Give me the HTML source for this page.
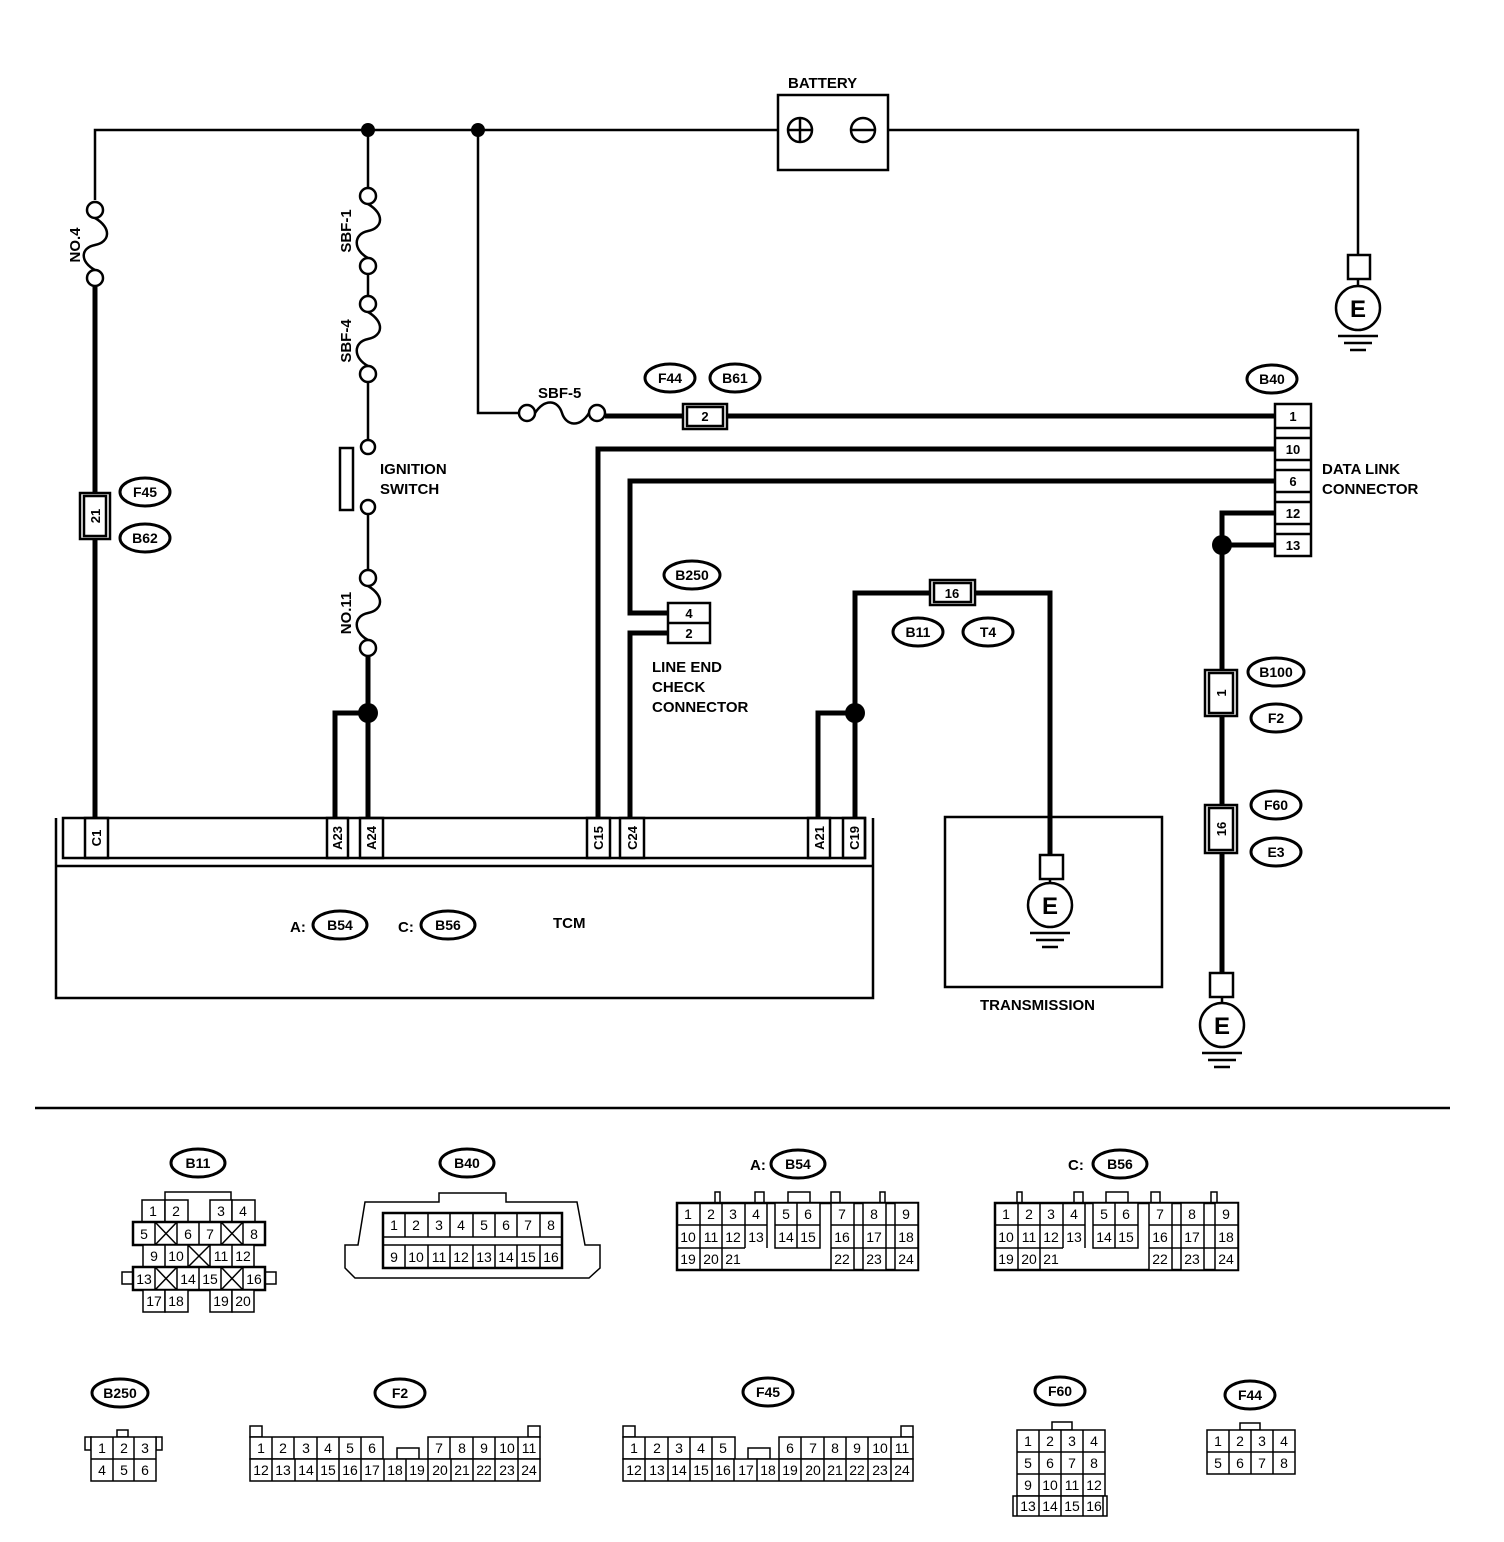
<!DOCTYPE html>
<html><head><meta charset="utf-8"><style>
html,body{margin:0;padding:0;background:#fff}
svg{display:block}
text{font-family:"Liberation Sans",Arial,sans-serif;fill:#000}
.l{font-size:15px;font-weight:bold}
.o{font-size:14px;font-weight:bold;text-anchor:middle}
.c{font-size:14px;text-anchor:middle}
.p{font-size:13px;font-weight:bold;text-anchor:middle}
</style></head><body>
<svg width="1504" height="1542" viewBox="0 0 1504 1542" xmlns="http://www.w3.org/2000/svg">
<g fill="none" stroke="#000" stroke-width="2.5">
<!-- top wire -->
<path d="M95 200 V130 H778 M888 130 H1358 V255"/>
<rect x="778" y="95" width="110" height="75"/>
<circle cx="800" cy="130" r="12"/><path d="M788 130 H812 M800 118 V142"/>
<circle cx="863" cy="130" r="12"/><path d="M851 130 H875"/>
<!-- NO.4 fuse -->
<circle cx="95" cy="210" r="8" fill="#fff"/><circle cx="95" cy="278" r="8" fill="#fff"/>
<path d="M95 218 C112 228,110 242,95 245 C80 248,80 262,95 270"/>
<!-- 368 column -->
<path d="M368 130 V188"/>
<circle cx="368" cy="196" r="8" fill="#fff"/><circle cx="368" cy="266" r="8" fill="#fff"/>
<path d="M368 204 C385 214,383 228,368 231 C353 234,353 250,368 258"/>
<path d="M368 274 V296"/>
<circle cx="368" cy="304" r="8" fill="#fff"/><circle cx="368" cy="374" r="8" fill="#fff"/>
<path d="M368 312 C385 322,383 336,368 339 C353 342,353 358,368 366"/>
<path d="M368 382 V439"/>
<circle cx="368" cy="447" r="7" fill="#fff"/><circle cx="368" cy="507" r="7" fill="#fff"/>
<rect x="340" y="448" width="13" height="62"/>
<path d="M368 514 V570"/>
<circle cx="368" cy="578" r="8" fill="#fff"/><circle cx="368" cy="648" r="8" fill="#fff"/>
<path d="M368 586 C385 596,383 610,368 613 C353 616,353 632,368 640"/>
<!-- 478 column -->
<path d="M478 130 V413 H519"/>
<circle cx="527" cy="413" r="8" fill="#fff"/><circle cx="597" cy="413" r="8" fill="#fff"/>
<path d="M535 413 C545 398,558 400,562 413 C566 426,580 428,589 413"/>
<!-- ground near battery -->
<rect x="1348" y="255" width="22" height="24"/>
<path d="M1358 279 V286"/>
<circle cx="1358" cy="308" r="22"/>
<path d="M1338 336 H1378 M1344 343 H1372 M1350 350 H1366"/>
</g>
<g fill="#000">
<circle cx="368" cy="130" r="7"/><circle cx="478" cy="130" r="7"/>
<circle cx="368" cy="713" r="10"/><circle cx="855" cy="713" r="10"/><circle cx="1222" cy="545" r="10"/>
</g>
<!-- thick wires -->
<g fill="none" stroke="#000" stroke-width="5">
<path d="M95 286 V818"/>
<path d="M368 656 V818 M368 713 H335 V818"/>
<path d="M605 416 H683 M727 416 H1275"/>
<path d="M1275 449 H598 V818"/>
<path d="M1275 481 H630 V613 H668 M668 633 H630 V818"/>
<path d="M1275 513 H1222 V973 M1275 545 H1222"/>
<path d="M818 818 V713 H855 M855 818 V593 H930 M975 593 H1050 V855"/>
</g>
<g fill="none" stroke="#000" stroke-width="2.5">
<!-- F44/B61 connector -->
<rect x="683" y="404" width="44" height="25" fill="#fff"/><rect x="687" y="407" width="36" height="19"/>
<!-- F45 connector -->
<rect x="80" y="493" width="30" height="46" fill="#fff"/><rect x="84" y="496" width="22" height="40"/>
<!-- DLC -->
<rect x="1275" y="404" width="36" height="152" fill="#fff"/>
<path d="M1275 428 H1311 M1275 438 H1311 M1275 460 H1311 M1275 470 H1311 M1275 492 H1311 M1275 502 H1311 M1275 524 H1311 M1275 534 H1311"/>
<!-- B250 -->
<rect x="668" y="603" width="42" height="40" fill="#fff"/><path d="M668 623 H710"/>
<!-- B11/T4 connector -->
<rect x="930" y="580" width="45" height="25" fill="#fff"/><rect x="934" y="583" width="37" height="19"/>
<!-- B100 connector -->
<rect x="1205" y="670" width="32" height="46" fill="#fff"/><rect x="1209" y="673" width="24" height="40"/>
<rect x="1205" y="805" width="32" height="48" fill="#fff"/><rect x="1209" y="808" width="24" height="42"/>
<!-- TCM -->
<path d="M56 818 V998 H873 V818 M56 866 H873"/>
<rect x="63" y="818" width="802" height="40"/>
<rect x="85" y="818" width="23" height="40"/>
<rect x="327" y="818" width="21" height="40"/><rect x="360" y="818" width="23" height="40"/>
<rect x="587" y="818" width="23" height="40"/><rect x="620" y="818" width="24" height="40"/>
<rect x="808" y="818" width="22" height="40"/><rect x="843" y="818" width="22" height="40"/>
<!-- transmission -->
<rect x="945" y="817" width="217" height="170"/>
<rect x="1040" y="855" width="23" height="24" fill="#fff"/>
<path d="M1050 879 V884"/><circle cx="1050" cy="905" r="22"/>
<path d="M1030 933 H1070 M1036 940 H1064 M1042 947 H1058"/>
<rect x="1210" y="973" width="23" height="24" fill="#fff"/>
<path d="M1222 997 V1003"/><circle cx="1222" cy="1025" r="22"/>
<path d="M1202 1053 H1242 M1208 1060 H1236 M1214 1067 H1230"/>
<path d="M35 1108 H1450"/>
</g>
<g fill="none" stroke="#000" stroke-width="3">
<ellipse cx="145" cy="492" rx="25" ry="14"/><ellipse cx="145" cy="538" rx="25" ry="14"/>
<ellipse cx="670" cy="378" rx="25" ry="14"/><ellipse cx="735" cy="378" rx="25" ry="14"/>
<ellipse cx="1272" cy="379" rx="25" ry="14"/>
<ellipse cx="692" cy="575" rx="28" ry="14"/>
<ellipse cx="918" cy="632" rx="25" ry="14"/><ellipse cx="988" cy="632" rx="25" ry="14"/>
<ellipse cx="1276" cy="672" rx="28" ry="14"/><ellipse cx="1276" cy="718" rx="25" ry="14"/>
<ellipse cx="1276" cy="805" rx="25" ry="14"/><ellipse cx="1276" cy="852" rx="25" ry="14"/>
<ellipse cx="340" cy="925" rx="27" ry="14"/><ellipse cx="448" cy="925" rx="27" ry="14"/>
<ellipse cx="198" cy="1163" rx="27" ry="14"/><ellipse cx="467" cy="1163" rx="27" ry="14"/>
<ellipse cx="798" cy="1164" rx="27" ry="14"/><ellipse cx="1120" cy="1164" rx="27" ry="14"/>
<ellipse cx="120" cy="1393" rx="28" ry="14"/><ellipse cx="400" cy="1393" rx="25" ry="14"/>
<ellipse cx="768" cy="1392" rx="25" ry="14"/><ellipse cx="1060" cy="1391" rx="25" ry="14"/>
<ellipse cx="1250" cy="1395" rx="25" ry="14"/>
</g>
<!-- labels -->
<text class="l" x="788" y="88">BATTERY</text>
<text class="l" x="1322" y="474">DATA LINK</text><text class="l" x="1322" y="494">CONNECTOR</text>
<text class="l" x="380" y="474">IGNITION</text><text class="l" x="380" y="494">SWITCH</text>
<text class="l" x="652" y="672">LINE END</text><text class="l" x="652" y="692">CHECK</text><text class="l" x="652" y="712">CONNECTOR</text>
<text class="l" x="538" y="398">SBF-5</text>
<text class="l" x="980" y="1010">TRANSMISSION</text>
<text class="l" x="553" y="928">TCM</text>
<text class="l" x="290" y="932">A:</text><text class="l" x="398" y="932">C:</text>
<text class="l" transform="translate(80,245) rotate(-90)" text-anchor="middle">NO.4</text>
<text class="l" transform="translate(351,231) rotate(-90)" text-anchor="middle">SBF-1</text>
<text class="l" transform="translate(351,341) rotate(-90)" text-anchor="middle">SBF-4</text>
<text class="l" transform="translate(351,613) rotate(-90)" text-anchor="middle">NO.11</text>
<g class="p">
<text x="705" y="421">2</text>
<text transform="translate(100,516) rotate(-90)">21</text>
<text x="1293" y="421">1</text><text x="1293" y="454">10</text><text x="1293" y="486">6</text><text x="1293" y="518">12</text><text x="1293" y="550">13</text>
<text x="689" y="618">4</text><text x="689" y="638">2</text>
<text x="952" y="598">16</text>
<text transform="translate(1226,693) rotate(-90)">1</text>
<text transform="translate(1226,829) rotate(-90)">16</text>
<text transform="translate(101,838) rotate(-90)">C1</text>
<text transform="translate(342,838) rotate(-90)">A23</text>
<text transform="translate(376,838) rotate(-90)">A24</text>
<text transform="translate(603,838) rotate(-90)">C15</text>
<text transform="translate(637,838) rotate(-90)">C24</text>
<text transform="translate(824,838) rotate(-90)">A21</text>
<text transform="translate(859,838) rotate(-90)">C19</text>
</g>
<g style="font-size:24px;font-weight:bold;text-anchor:middle">
<text x="1358" y="317">E</text><text x="1050" y="914">E</text><text x="1222" y="1034">E</text>
</g>
<g class="o">
<text x="145" y="497">F45</text><text x="145" y="543">B62</text>
<text x="670" y="383">F44</text><text x="735" y="383">B61</text>
<text x="1272" y="384">B40</text><text x="692" y="580">B250</text>
<text x="918" y="637">B11</text><text x="988" y="637">T4</text>
<text x="1276" y="677">B100</text><text x="1276" y="723">F2</text>
<text x="1276" y="810">F60</text><text x="1276" y="857">E3</text>
<text x="340" y="930">B54</text><text x="448" y="930">B56</text>
<text x="198" y="1168">B11</text><text x="467" y="1168">B40</text>
<text x="798" y="1169">B54</text><text x="1120" y="1169">B56</text>
<text x="120" y="1398">B250</text><text x="400" y="1398">F2</text>
<text x="768" y="1397">F45</text><text x="1060" y="1396">F60</text><text x="1250" y="1400">F44</text>
</g>
<text class="l" x="750" y="1170">A:</text><text class="l" x="1068" y="1170">C:</text>

<!-- bottom connectors -->
<g fill="#fff" stroke="#000" stroke-width="1.5">
<!-- B11 -->
<path d="M165 1200 V1192 H231 V1200" fill="none"/>
<rect x="142" y="1200" width="23" height="22"/><rect x="165" y="1200" width="23" height="22"/><rect x="210" y="1200" width="22" height="22"/><rect x="232" y="1200" width="23" height="22"/>
<rect x="133" y="1222" width="132" height="23" stroke-width="2.5"/>
<path d="M155 1222 V1245 M177 1222 V1245 M199 1222 V1245 M221 1222 V1245 M243 1222 V1245 M155 1222 L177 1245 M177 1222 L155 1245 M221 1222 L243 1245 M243 1222 L221 1245"/>
<rect x="143" y="1245" width="111" height="22"/>
<path d="M165 1245 V1267 M188 1245 V1267 M210 1245 V1267 M232 1245 V1267 M188 1245 L210 1267 M210 1245 L188 1267"/>
<rect x="122" y="1272" width="11" height="12"/><rect x="265" y="1272" width="11" height="12"/>
<rect x="133" y="1267" width="132" height="23" stroke-width="2.5"/>
<path d="M155 1267 V1290 M177 1267 V1290 M199 1267 V1290 M221 1267 V1290 M243 1267 V1290 M155 1267 L177 1290 M177 1267 L155 1290 M221 1267 L243 1290 M243 1267 L221 1290"/>
<rect x="143" y="1290" width="22" height="22"/><rect x="165" y="1290" width="23" height="22"/><rect x="210" y="1290" width="22" height="22"/><rect x="232" y="1290" width="22" height="22"/>
<!-- B40 -->
<path d="M365 1202 H439 V1193 H506 V1202 H577 L585 1245 H600 V1268 L589 1278 H355 L345 1268 V1245 H358 Z"/>
<rect x="383" y="1213" width="179" height="55" stroke-width="2.5"/>
<path d="M383 1237 H562 M383 1245 H562"/>
<path d="M405 1213 V1237 M428 1213 V1237 M450 1213 V1237 M473 1213 V1237 M495 1213 V1237 M517 1213 V1237 M540 1213 V1237 M405 1245 V1268 M428 1245 V1268 M450 1245 V1268 M473 1245 V1268 M495 1245 V1268 M517 1245 V1268 M540 1245 V1268"/>
<!-- B54 -->
<path d="M715 1203 V1192 H720 V1203 M755 1203 V1192 H764 V1203 M788 1203 V1192 H810 V1203 M831 1203 V1192 H840 V1203 M880 1203 V1192 H885 V1203" fill="none"/>
<rect x="677" y="1203" width="241" height="67" stroke-width="2.5"/>
<path d="M677 1225 H767 M677 1248 H745 M700 1203 V1270 M722 1203 V1270 M745 1203 V1248 M767 1203 V1248"/>
<rect x="775" y="1203" width="45" height="45"/><path d="M775 1225 H820 M797 1203 V1248"/>
<rect x="831" y="1203" width="23" height="67"/><rect x="863" y="1203" width="23" height="67"/><rect x="895" y="1203" width="23" height="67"/>
<path d="M831 1225 H918 M831 1248 H918"/>
<!-- B56 -->
<path d="M1017 1203 V1192 H1022 V1203 M1074 1203 V1192 H1083 V1203 M1106 1203 V1192 H1128 V1203 M1151 1203 V1192 H1160 V1203 M1211 1203 V1192 H1217 V1203" fill="none"/>
<rect x="995" y="1203" width="243" height="67" stroke-width="2.5"/>
<path d="M995 1225 H1085 M995 1248 H1063 M1018 1203 V1270 M1040 1203 V1270 M1063 1203 V1248 M1085 1203 V1248"/>
<rect x="1093" y="1203" width="45" height="45"/><path d="M1093 1225 H1138 M1115 1203 V1248"/>
<rect x="1149" y="1203" width="23" height="67"/><rect x="1181" y="1203" width="23" height="67"/><rect x="1215" y="1203" width="23" height="67"/>
<path d="M1149 1225 H1238 M1149 1248 H1238"/>
<!-- B250 -->
<rect x="117" y="1430" width="11" height="7"/>
<rect x="85" y="1437" width="6" height="13"/><rect x="156" y="1437" width="6" height="13"/>
<rect x="91" y="1437" width="65" height="44"/>
<path d="M91 1459 H156 M113 1437 V1481 M134 1437 V1481"/>
<!-- F2 -->
<rect x="250" y="1426" width="12" height="11"/><rect x="528" y="1426" width="12" height="11"/>
<rect x="397" y="1448" width="22" height="11"/>
<rect x="250" y="1437" width="133" height="22"/><rect x="428" y="1437" width="112" height="22"/>
<path d="M272 1437 V1459 M294 1437 V1459 M317 1437 V1459 M339 1437 V1459 M361 1437 V1459 M450 1437 V1459 M473 1437 V1459 M495 1437 V1459 M518 1437 V1459"/>
<rect x="250" y="1459" width="290" height="22"/>
<path d="M272 1459 V1481 M295 1459 V1481 M317 1459 V1481 M339 1459 V1481 M361 1459 V1481 M384 1459 V1481 M406 1459 V1481 M428 1459 V1481 M451 1459 V1481 M473 1459 V1481 M495 1459 V1481 M518 1459 V1481"/>
<!-- F45 -->
<rect x="623" y="1426" width="12" height="11"/><rect x="901" y="1426" width="12" height="11"/>
<rect x="748" y="1448" width="22" height="11"/>
<rect x="623" y="1437" width="112" height="22"/><rect x="779" y="1437" width="134" height="22"/>
<path d="M645 1437 V1459 M668 1437 V1459 M690 1437 V1459 M712 1437 V1459 M801 1437 V1459 M824 1437 V1459 M846 1437 V1459 M868 1437 V1459 M891 1437 V1459"/>
<rect x="623" y="1459" width="290" height="22"/>
<path d="M645 1459 V1481 M668 1459 V1481 M690 1459 V1481 M712 1459 V1481 M734 1459 V1481 M757 1459 V1481 M779 1459 V1481 M801 1459 V1481 M824 1459 V1481 M846 1459 V1481 M868 1459 V1481 M891 1459 V1481"/>
<!-- F60 -->
<rect x="1052" y="1422" width="20" height="8"/>
<rect x="1017" y="1430" width="88" height="66"/>
<path d="M1017 1452 H1105 M1017 1474 H1105 M1039 1430 V1496 M1061 1430 V1496 M1083 1430 V1496"/>
<rect x="1013" y="1496" width="94" height="20"/>
<path d="M1017 1496 V1516 M1103 1496 V1516 M1039 1496 V1516 M1061 1496 V1516 M1083 1496 V1516"/>
<!-- F44 -->
<rect x="1240" y="1423" width="20" height="7"/>
<rect x="1207" y="1430" width="88" height="44"/>
<path d="M1207 1452 H1295 M1229 1430 V1474 M1251 1430 V1474 M1273 1430 V1474"/>
</g>
<g class="c">
<!-- B11 -->
<text x="153" y="1216">1</text><text x="176" y="1216">2</text><text x="221" y="1216">3</text><text x="243" y="1216">4</text>
<text x="144" y="1239">5</text><text x="188" y="1239">6</text><text x="210" y="1239">7</text><text x="254" y="1239">8</text>
<text x="154" y="1261">9</text><text x="176" y="1261">10</text><text x="221" y="1261">11</text><text x="243" y="1261">12</text>
<text x="144" y="1284">13</text><text x="188" y="1284">14</text><text x="210" y="1284">15</text><text x="254" y="1284">16</text>
<text x="154" y="1306">17</text><text x="176" y="1306">18</text><text x="221" y="1306">19</text><text x="243" y="1306">20</text>
<!-- B40 -->
<text x="394" y="1230">1</text><text x="416" y="1230">2</text><text x="439" y="1230">3</text><text x="461" y="1230">4</text><text x="484" y="1230">5</text><text x="506" y="1230">6</text><text x="528" y="1230">7</text><text x="551" y="1230">8</text>
<text x="394" y="1262">9</text><text x="416" y="1262">10</text><text x="439" y="1262">11</text><text x="461" y="1262">12</text><text x="484" y="1262">13</text><text x="506" y="1262">14</text><text x="528" y="1262">15</text><text x="551" y="1262">16</text>
<!-- B54 -->
<text x="688" y="1219">1</text><text x="711" y="1219">2</text><text x="733" y="1219">3</text><text x="756" y="1219">4</text><text x="786" y="1219">5</text><text x="808" y="1219">6</text><text x="842" y="1219">7</text><text x="874" y="1219">8</text><text x="906" y="1219">9</text>
<text x="688" y="1242">10</text><text x="711" y="1242">11</text><text x="733" y="1242">12</text><text x="756" y="1242">13</text><text x="786" y="1242">14</text><text x="808" y="1242">15</text><text x="842" y="1242">16</text><text x="874" y="1242">17</text><text x="906" y="1242">18</text>
<text x="688" y="1264">19</text><text x="711" y="1264">20</text><text x="733" y="1264">21</text><text x="842" y="1264">22</text><text x="874" y="1264">23</text><text x="906" y="1264">24</text>
<!-- B56 -->
<text x="1006" y="1219">1</text><text x="1029" y="1219">2</text><text x="1051" y="1219">3</text><text x="1074" y="1219">4</text><text x="1104" y="1219">5</text><text x="1126" y="1219">6</text><text x="1160" y="1219">7</text><text x="1192" y="1219">8</text><text x="1226" y="1219">9</text>
<text x="1006" y="1242">10</text><text x="1029" y="1242">11</text><text x="1051" y="1242">12</text><text x="1074" y="1242">13</text><text x="1104" y="1242">14</text><text x="1126" y="1242">15</text><text x="1160" y="1242">16</text><text x="1192" y="1242">17</text><text x="1226" y="1242">18</text>
<text x="1006" y="1264">19</text><text x="1029" y="1264">20</text><text x="1051" y="1264">21</text><text x="1160" y="1264">22</text><text x="1192" y="1264">23</text><text x="1226" y="1264">24</text>
<!-- B250 -->
<text x="102" y="1453">1</text><text x="124" y="1453">2</text><text x="145" y="1453">3</text>
<text x="102" y="1475">4</text><text x="124" y="1475">5</text><text x="145" y="1475">6</text>
<!-- F2 -->
<text x="261" y="1453">1</text><text x="283" y="1453">2</text><text x="306" y="1453">3</text><text x="328" y="1453">4</text><text x="350" y="1453">5</text><text x="372" y="1453">6</text>
<text x="439" y="1453">7</text><text x="462" y="1453">8</text><text x="484" y="1453">9</text><text x="507" y="1453">10</text><text x="529" y="1453">11</text>
<text x="261" y="1475">12</text><text x="283" y="1475">13</text><text x="306" y="1475">14</text><text x="328" y="1475">15</text><text x="350" y="1475">16</text><text x="372" y="1475">17</text><text x="395" y="1475">18</text><text x="417" y="1475">19</text><text x="440" y="1475">20</text><text x="462" y="1475">21</text><text x="484" y="1475">22</text><text x="507" y="1475">23</text><text x="529" y="1475">24</text>
<!-- F45 -->
<text x="634" y="1453">1</text><text x="657" y="1453">2</text><text x="679" y="1453">3</text><text x="701" y="1453">4</text><text x="723" y="1453">5</text>
<text x="790" y="1453">6</text><text x="813" y="1453">7</text><text x="835" y="1453">8</text><text x="857" y="1453">9</text><text x="880" y="1453">10</text><text x="902" y="1453">11</text>
<text x="634" y="1475">12</text><text x="657" y="1475">13</text><text x="679" y="1475">14</text><text x="701" y="1475">15</text><text x="723" y="1475">16</text><text x="746" y="1475">17</text><text x="768" y="1475">18</text><text x="790" y="1475">19</text><text x="813" y="1475">20</text><text x="835" y="1475">21</text><text x="857" y="1475">22</text><text x="880" y="1475">23</text><text x="902" y="1475">24</text>
<!-- F60 -->
<text x="1028" y="1446">1</text><text x="1050" y="1446">2</text><text x="1072" y="1446">3</text><text x="1094" y="1446">4</text>
<text x="1028" y="1468">5</text><text x="1050" y="1468">6</text><text x="1072" y="1468">7</text><text x="1094" y="1468">8</text>
<text x="1028" y="1490">9</text><text x="1050" y="1490">10</text><text x="1072" y="1490">11</text><text x="1094" y="1490">12</text>
<text x="1028" y="1511">13</text><text x="1050" y="1511">14</text><text x="1072" y="1511">15</text><text x="1094" y="1511">16</text>
<!-- F44 -->
<text x="1218" y="1446">1</text><text x="1240" y="1446">2</text><text x="1262" y="1446">3</text><text x="1284" y="1446">4</text>
<text x="1218" y="1468">5</text><text x="1240" y="1468">6</text><text x="1262" y="1468">7</text><text x="1284" y="1468">8</text>
</g>
</svg>
</body></html>
